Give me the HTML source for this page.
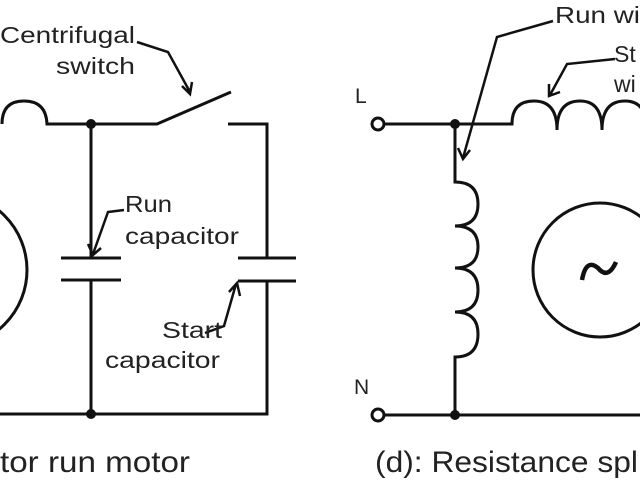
<!DOCTYPE html>
<html><head><style>body{margin:0;background:#fff}svg{display:block}</style></head><body>
<svg width="640" height="480" viewBox="0 0 640 480" xmlns="http://www.w3.org/2000/svg">
<g fill="none" stroke="#111" stroke-width="3" stroke-linecap="butt">
<circle cx="-50" cy="270" r="77"/>
<path d="M2,124 Q2,101 24,101 Q46,101 47,124 L157,124 L231,92"/>
<path d="M228,124 L267,124 L267,258"/>
<path d="M91,124 L91,258 M61,258 L121,258 M61,280 L121,280 M91,280 L91,414"/>
<path d="M238,258 L296,258 M238,281 L296,281 M267,281 L267,414 L0,414"/>
<circle cx="378" cy="124" r="6" fill="#fff"/>
<circle cx="378" cy="415" r="6" fill="#fff"/>
<path d="M384,124 L512,124 Q512,101 534,101 Q557,101 557,130 Q557,101 580,101 Q602,101 602,130 Q602,101 625,101 Q647,101 647,130"/>
<path d="M455,124 L455,182 Q478,182 478,204 Q478,226 455,226 Q478,226 478,247 Q478,268 455,268 Q478,268 478,290 Q478,312 455,312 Q478,312 478,334 Q478,357 455,357 L455,415"/>
<path d="M384,415 L640,415"/>
<circle cx="600" cy="270" r="67"/>
<path d="M582,280 Q586,258 598,268 Q608,280 616,262" stroke-width="4.5"/>
<path d="M137,42 L168,52 L190,92 M182,86 L190,94 L192,82" stroke-width="2.5"/>
<path d="M124,210 L108,212 L93,254 M88,244 L93,255 L101,248" stroke-width="2.5"/>
<path d="M205,333 L224,326 L236,284 M229,292 L237,283 L240,296" stroke-width="2.5"/>
<path d="M553,21 L497,37 L463,158 M458,148 L463,159 L470,150" stroke-width="2.5"/>
<path d="M615,59 L567,64 L550,95 M549,84 L549,96 L560,92" stroke-width="2.5"/>
</g>
<g fill="#111" stroke="none">
<circle cx="91" cy="124" r="5"/>
<circle cx="91" cy="414" r="5"/>
<circle cx="455" cy="124" r="5"/>
<circle cx="455" cy="415" r="5"/>
</g>
<g font-family="Liberation Sans, sans-serif" fill="#222" font-size="23">
<text x="0" y="43" textLength="135" lengthAdjust="spacingAndGlyphs">Centrifugal</text>
<text x="56" y="74" textLength="79" lengthAdjust="spacingAndGlyphs">switch</text>
<text x="125" y="212" textLength="47" lengthAdjust="spacingAndGlyphs">Run</text>
<text x="125" y="244" textLength="114" lengthAdjust="spacingAndGlyphs">capacitor</text>
<text x="162" y="338" textLength="60" lengthAdjust="spacingAndGlyphs">Start</text>
<text x="105" y="368" textLength="115" lengthAdjust="spacingAndGlyphs">capacitor</text>
<text x="555" y="23" textLength="85" lengthAdjust="spacingAndGlyphs">Run wi</text>
<text x="614" y="62">St</text>
<text x="614" y="92">wi</text>
<text x="355" y="103" font-size="21">L</text>
<text x="354" y="394" font-size="21">N</text>
<text x="0" y="472" font-size="30" textLength="190" lengthAdjust="spacingAndGlyphs">tor run motor</text>
<text x="375" y="472" font-size="30" textLength="270" lengthAdjust="spacingAndGlyphs">(d): Resistance spli</text>
</g>
</svg>
</body></html>
